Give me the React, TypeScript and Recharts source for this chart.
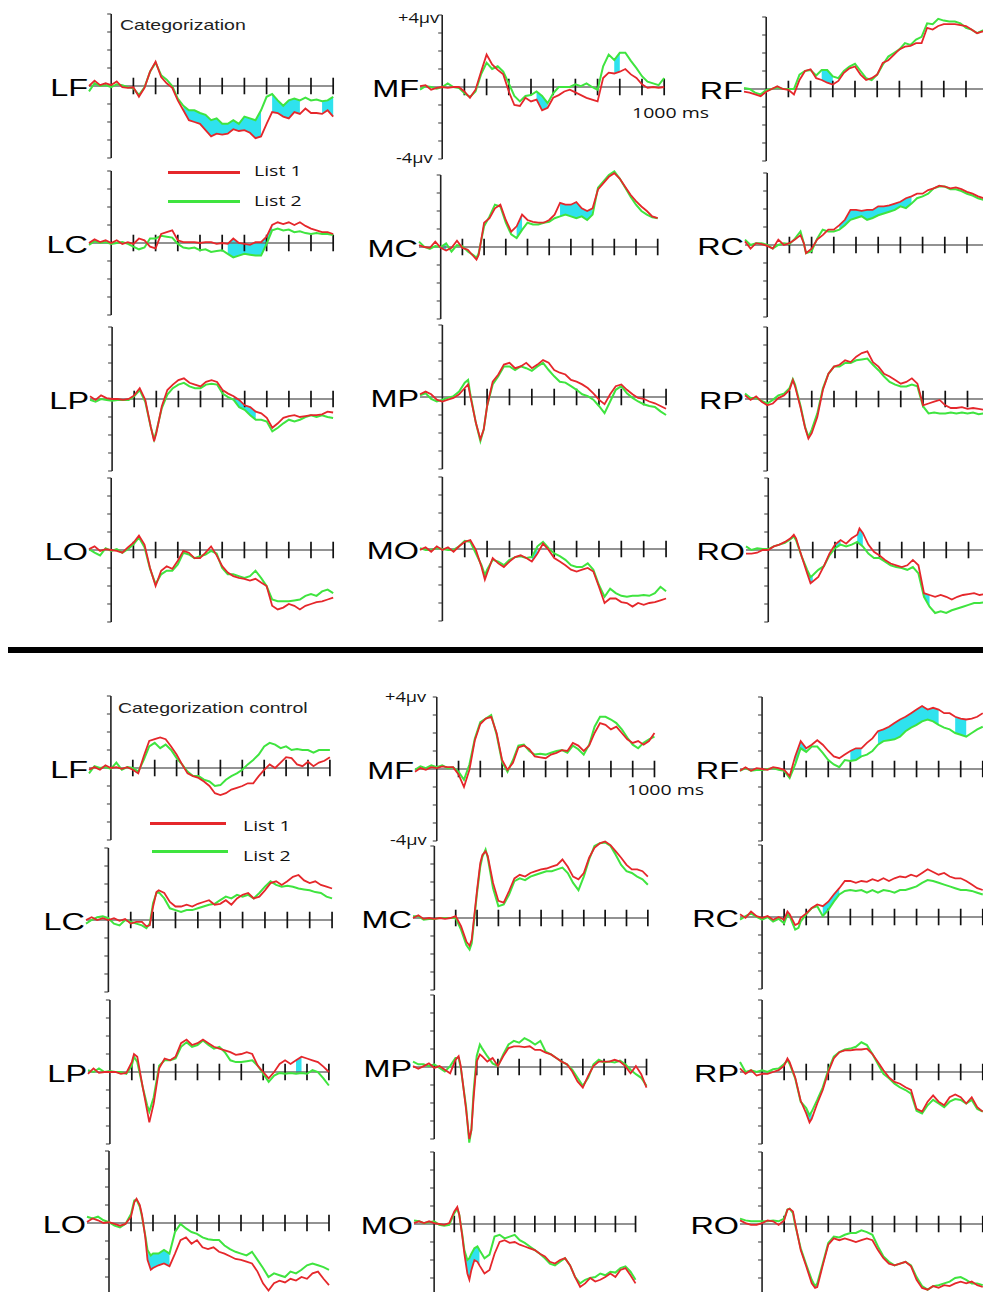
import React from 'react';
import { ComposedChart, Line, Area, XAxis, YAxis, ReferenceLine } from 'recharts';

const RED = '#e5272b';
const GREEN = '#3fe43f';
const CYAN = '#2fe2ee';
const ARIAL = '"Liberation Sans", Arial, sans-serif';
const OPEN = '"Open Sans", sans-serif';

// time points (ms)
const GRID = [-100, -75, -50, -25, 0, 25, 50, 75, 100, 125, 150, 175, 200, 225, 250, 275, 300, 325, 350, 375, 400, 425, 450, 475, 500, 525, 550, 575, 600, 625, 650, 675, 700, 725, 750, 775, 800, 825, 850, 875, 900, 925, 950, 975, 1000];
const T_165 = [-100, -75, -50, -25, 0, 25, 50, 75, 100, 125, 150, 165, 175, 200, 225, 250, 275, 300, 325, 350, 375, 400, 425, 450, 475, 500, 525, 550, 575, 600, 625, 650, 675, 700, 725, 750, 775, 800, 825, 850, 875, 900, 925, 950, 975, 1000];
const T_190 = [-100, -75, -50, -25, 0, 25, 50, 75, 100, 125, 150, 175, 190, 200, 225, 250, 275, 300, 325, 350, 375, 400, 425, 450, 475, 500, 525, 550, 575, 600, 625, 650, 675, 700, 725, 750, 775, 800, 825, 850, 875, 900, 925, 950, 975, 1000];
const T_TMP = [-100, -75, -50, -25, 0, 25, 50, 75, 100, 115, 125, 150, 170, 185, 200, 225, 250, 275, 300, 325, 350, 375, 400, 425, 450, 475, 500, 525, 550, 575, 600, 625, 650, 675, 700, 725, 750, 775, 800, 825, 850, 875, 900, 925, 950, 975, 1000];
const T_TRO = [-100, -75, -50, -25, 0, 25, 50, 75, 100, 115, 125, 150, 175, 190, 200, 225, 250, 275, 300, 325, 350, 375, 400, 410, 425, 450, 475, 500, 525, 550, 575, 600, 625, 650, 675, 700, 725, 750, 775, 800, 825, 850, 875, 900, 925, 950, 975, 1000];
const T_BLC = [-100, -75, -50, -25, 0, 25, 50, 75, 100, 125, 150, 170, 185, 200, 215, 225, 250, 275, 300, 325, 350, 375, 400, 425, 450, 475, 500, 525, 550, 575, 600, 625, 650, 675, 700, 725, 750, 775, 800, 825, 850, 875, 900, 925, 950, 975, 1000];
const T_BMC = [-100, -75, -50, -25, 0, 25, 50, 75, 100, 125, 150, 165, 175, 200, 215, 225, 240, 250, 275, 300, 325, 350, 375, 400, 425, 450, 475, 500, 525, 550, 575, 600, 625, 650, 675, 700, 725, 750, 775, 800, 825, 850, 875, 900, 925, 950, 975, 1000];
const T_BRC = [-100, -75, -50, -25, 0, 25, 50, 75, 100, 115, 125, 150, 165, 175, 200, 225, 250, 275, 300, 325, 350, 375, 400, 425, 450, 475, 500, 525, 550, 575, 600, 625, 650, 675, 700, 725, 750, 775, 800, 825, 850, 875, 900, 925, 950, 975, 1000];
const T_BLP = [-100, -75, -50, -25, 0, 25, 50, 75, 100, 110, 125, 150, 170, 180, 200, 225, 250, 275, 300, 325, 350, 375, 400, 425, 450, 475, 500, 525, 550, 575, 600, 625, 650, 675, 700, 725, 750, 775, 800, 825, 850, 875, 900, 925, 950, 975, 1000];
const T_BMP = [-100, -75, -50, -25, 0, 25, 50, 75, 100, 115, 125, 150, 165, 175, 185, 200, 215, 225, 250, 275, 300, 325, 350, 375, 400, 425, 450, 475, 500, 525, 550, 575, 600, 625, 650, 675, 700, 725, 750, 775, 800, 825, 850, 875, 900, 925, 950, 975, 1000];
const T_BRP = [-100, -75, -50, -25, 0, 25, 50, 75, 100, 115, 125, 150, 175, 200, 215, 225, 250, 275, 300, 325, 350, 375, 400, 425, 450, 475, 500, 525, 550, 575, 600, 625, 650, 675, 700, 725, 750, 775, 800, 825, 850, 875, 900, 925, 950, 975, 1000];
const T_BLO = [-100, -75, -50, -25, 0, 25, 50, 75, 100, 115, 125, 140, 150, 165, 175, 190, 200, 225, 250, 275, 300, 325, 350, 375, 400, 425, 450, 475, 500, 525, 550, 575, 600, 625, 650, 675, 700, 725, 750, 775, 800, 825, 850, 875, 900, 925, 950, 975, 1000];
const T_BMO = [-100, -75, -50, -25, 0, 25, 50, 75, 100, 115, 125, 140, 150, 165, 175, 185, 200, 215, 225, 250, 275, 300, 325, 350, 375, 400, 425, 450, 475, 500, 525, 550, 575, 600, 625, 650, 675, 700, 725, 750, 775, 800, 825, 850, 875, 900, 925, 950, 975, 1000];
const T_BRO = [-100, -75, -50, -25, 0, 25, 50, 75, 100, 115, 125, 140, 150, 175, 200, 225, 240, 250, 275, 300, 325, 350, 375, 400, 425, 450, 475, 500, 525, 550, 575, 600, 625, 650, 675, 700, 725, 750, 775, 800, 825, 850, 875, 900, 925, 950, 975, 1000];

// ---- Categorization (µV), list 1 = red, list 2 = green ----
const topLF_1 = [0, 0.3, 0.05, 0.15, 0.05, 0.25, -0.07, -0.1, -0.07, -0.6, -0.1, 0.8, 1.35, 0.5, 0.15, -0.1, -0.8, -1.35, -1.9, -2.0, -2.1, -2.45, -2.8, -2.65, -2.7, -2.65, -2.4, -2.5, -2.45, -2.6, -2.9, -2.8, -2.1, -1.45, -1.5, -1.7, -1.8, -1.45, -1.55, -1.25, -1.5, -1.5, -1.55, -1.35, -1.7];
const topLF_2 = [-0.3, 0.15, 0, 0.05, -0.07, 0.1, 0.05, -0.07, -0.13, -0.5, -0.07, 0.8, 1.3, 0.6, 0.35, 0, -0.7, -1.1, -1.35, -1.35, -1.5, -1.6, -1.9, -1.8, -2.1, -2.1, -1.9, -2.1, -1.7, -1.8, -1.9, -1.35, -0.6, -0.45, -0.8, -1.1, -0.8, -0.7, -0.8, -0.65, -0.8, -0.75, -0.85, -0.8, -0.6];
const topLF_sig = [[325, 475], [500, 675], [725, 850], [950, 1000]];

const topMF_1 = [0.05, 0.1, -0.15, -0.05, 0, -0.05, 0, 0, -0.25, -0.6, -0.15, 0.85, 1.8, 1.25, 0.95, 0.7, -0.25, -1.0, -1.05, -0.6, -0.8, -0.7, -1.3, -1.15, -0.6, -0.45, -0.25, -0.15, -0.3, -0.45, -0.6, -0.7, -0.8, 0.5, 0.8, 0.75, 0.85, 1.0, 0.7, 0.5, 0.15, -0.05, 0, -0.05, 0];
const topMF_2 = [-0.15, 0.05, 0, -0.1, 0, 0.2, 0, -0.05, -0.35, -0.55, -0.25, 0.7, 1.35, 1.0, 1.15, 0.85, 0.2, -0.5, -0.8, -0.5, -0.45, -0.25, -0.5, -0.9, -0.35, 0, 0, 0, 0.15, 0.05, 0.2, 0, -0.15, 1.15, 1.8, 1.5, 1.9, 1.9, 1.45, 1.05, 0.6, 0.3, 0.2, 0.1, 0.5];
const topMF_sig = [[425, 475], [775, 800]];

const topRF_1 = [-0.15, -0.2, -0.3, -0.4, -0.15, 0, 0.15, 0, -0.05, -0.3, 0.5, 1.0, 1.1, 0.6, 0.5, 0.35, 0.25, 0.45, 0.9, 1.15, 1.25, 0.8, 0.5, 0.6, 0.8, 1.45, 1.6, 1.9, 2.2, 2.35, 2.4, 2.55, 2.55, 3.4, 3.3, 3.5, 3.6, 3.6, 3.6, 3.55, 3.5, 3.3, 3.1, 3.2, 3.1];
const topRF_2 = [0.05, 0, -0.2, -0.3, -0.05, 0, 0.1, 0, 0, 0, 0.8, 1.0, 1.05, 0.75, 1.05, 1.05, 0.7, 0.6, 1.0, 1.25, 1.4, 1.0, 0.6, 0.5, 0.8, 1.35, 1.8, 2.0, 2.2, 2.55, 2.45, 2.75, 2.9, 3.65, 3.6, 3.9, 3.8, 3.75, 3.75, 3.65, 3.4, 3.3, 3.1, 3.25, 3.2];
const topRF_sig = [[250, 300]];

const topLC_1 = [0, 0.2, 0.05, 0.15, 0, 0.15, -0.05, 0.05, -0.05, 0.25, 0.15, -0.2, -0.3, 0.5, 0.6, 0.7, 0.15, 0.05, 0.05, 0.05, 0, 0.05, 0.05, -0.05, 0, -0.05, 0.25, 0, -0.05, -0.1, 0.05, 0.05, 0.35, 1.0, 1.15, 1.05, 1.15, 1.0, 1.15, 0.95, 0.8, 0.7, 0.6, 0.6, 0.5];
const topLC_2 = [-0.1, 0.1, 0, 0.05, -0.05, 0, 0.05, -0.05, -0.2, -0.35, -0.25, 0.25, 0.25, 0.4, 0.35, 0.3, -0.05, -0.25, -0.3, -0.25, -0.4, -0.35, -0.5, -0.45, -0.4, -0.6, -0.8, -0.7, -0.6, -0.65, -0.7, -0.7, -0.05, 0.7, 0.8, 0.7, 0.75, 0.6, 0.65, 0.55, 0.5, 0.55, 0.5, 0.5, 0.45];
const topLC_sig = [[525, 600], [625, 725]];

const topMC_1 = [0.1, 0, -0.05, 0.3, -0.05, -0.2, -0.05, 0.35, -0.05, -0.15, -0.5, -0.7, -0.45, 1.35, 1.6, 2.15, 2.35, 1.5, 0.85, 1.15, 1.8, 1.5, 1.4, 1.35, 1.35, 1.5, 1.8, 2.45, 2.35, 2.35, 2.5, 2.15, 2.0, 2.15, 3.2, 3.55, 3.9, 4.1, 3.8, 3.35, 2.9, 2.55, 2.25, 2.0, 1.7, 1.6];
const topMC_2 = [0.3, 0, -0.1, 0.05, 0, 0.2, -0.25, 0.1, 0.05, -0.25, -0.45, -0.6, -0.35, 1.15, 1.7, 2.35, 2.25, 1.35, 0.7, 0.5, 0.95, 1.35, 1.25, 1.25, 1.35, 1.4, 1.6, 1.7, 1.8, 1.7, 1.6, 1.7, 1.5, 1.8, 3.3, 3.65, 4.0, 4.2, 3.8, 3.3, 2.8, 2.35, 2.0, 1.8, 1.65, 1.6];
const topMC_sig = [[0, 25], [350, 375], [550, 700]];

const topRC_1 = [0.2, -0.2, 0.1, 0.05, -0.05, -0.2, 0.3, 0, 0.1, 0.3, 0.55, 0.1, -0.45, -0.2, 0.3, 0.55, 0.85, 0.85, 1.1, 1.4, 1.95, 1.95, 1.9, 1.95, 1.95, 2.15, 2.15, 2.2, 2.3, 2.4, 2.6, 2.7, 2.85, 2.85, 3.05, 3.15, 3.3, 3.25, 3.15, 3.2, 3.1, 2.95, 2.85, 2.7, 2.6, 2.5];
const topRC_2 = [0.3, 0, 0.1, 0.1, 0, -0.2, 0, 0.1, 0.05, 0.35, 0.75, 0.1, -0.45, -0.35, 0.35, 0.85, 0.75, 0.75, 0.85, 1.1, 1.4, 1.5, 1.6, 1.4, 1.5, 1.65, 1.75, 1.85, 1.95, 2.15, 2.05, 2.3, 2.6, 2.7, 2.85, 3.15, 3.25, 3.25, 3.1, 3.1, 3.0, 2.85, 2.75, 2.6, 2.5, 2.45];
const topRC_sig = [[325, 650]];

const topLP_1 = [0.15, -0.05, 0.2, 0.05, 0, 0, -0.05, 0, 0.2, 0.6, -0.05, -1.55, -2.35, -1.9, -0.4, 0.5, 0.8, 1.05, 1.15, 0.9, 0.8, 0.7, 0.95, 1.05, 0.95, 0.5, 0.3, 0.15, -0.05, -0.35, -0.45, -0.7, -0.8, -1.05, -1.6, -1.35, -1.05, -0.95, -0.9, -1.0, -0.95, -0.9, -0.9, -0.85, -0.7, -0.75];
const topLP_2 = [-0.05, -0.15, 0, -0.05, -0.1, -0.05, -0.05, -0.05, 0.15, 0.5, -0.15, -1.55, -2.25, -1.8, -0.5, 0.25, 0.6, 0.8, 0.9, 0.7, 0.6, 0.6, 0.8, 0.85, 0.8, 0.3, 0.1, -0.05, -0.45, -0.6, -0.9, -1.15, -1.15, -1.25, -1.8, -1.6, -1.35, -1.15, -1.25, -1.15, -1.0, -0.9, -1.0, -0.9, -1.0, -1.05];
const topLP_sig = [[550, 650]];

const topMP_1 = [0.15, 0.3, 0.15, -0.15, -0.25, -0.15, -0.05, 0.15, 0.5, 0.7, 0.05, -1.45, -2.35, -1.8, -0.5, 0.85, 1.25, 1.8, 1.9, 1.6, 1.7, 1.9, 1.6, 1.8, 2.05, 1.9, 1.5, 1.35, 1.25, 0.95, 0.85, 0.7, 0.5, 0.2, -0.15, -0.4, 0.15, 0.6, 0.7, 0.4, 0.15, -0.05, -0.1, -0.25, -0.35, -0.5, -0.65];
const topMP_2 = [0.1, 0.2, -0.1, -0.25, -0.15, -0.05, 0.05, 0.3, 0.8, 0.95, 0.15, -1.45, -2.45, -1.8, -0.5, 0.7, 1.15, 1.7, 1.7, 1.5, 1.7, 1.6, 1.45, 1.7, 1.9, 1.5, 1.15, 0.85, 0.8, 0.6, 0.4, 0.15, 0.05, -0.15, -0.5, -0.9, -0.25, 0.4, 0.6, 0.2, -0.05, -0.25, -0.4, -0.5, -0.55, -0.8, -1.0];
const topMP_sig: number[][] = [];

const topRP_1 = [0.2, -0.05, 0.15, -0.15, -0.35, -0.25, 0.05, 0.2, 0.5, 1.05, 0.7, -0.5, -1.6, -2.2, -1.9, -1.0, 0.5, 1.4, 1.8, 1.9, 2.15, 2.05, 2.35, 2.55, 2.65, 2.05, 1.8, 1.4, 1.25, 1.05, 0.85, 0.95, 1.15, 0.85, -0.35, -0.25, -0.15, -0.05, -0.35, -0.5, -0.5, -0.45, -0.55, -0.5, -0.55, -0.6, -0.65];
const topRP_2 = [0.3, 0.05, 0.05, -0.1, -0.25, -0.05, 0.2, 0.3, 0.6, 1.1, 0.8, -0.4, -1.55, -2.1, -1.7, -0.8, 0.6, 1.4, 1.8, 1.8, 2.0, 2.0, 2.15, 2.2, 2.25, 1.9, 1.6, 1.25, 0.95, 0.8, 0.7, 0.7, 0.8, 0.7, -0.4, -0.8, -0.75, -0.8, -0.8, -0.75, -0.8, -0.75, -0.8, -0.75, -0.85, -0.8, -0.85];
const topRP_sig = [[170, 200]];

const topLO_1 = [0.05, 0.2, -0.05, 0.05, 0, -0.05, -0.15, 0.15, 0.4, 0.8, 0.3, -1.0, -2.0, -1.15, -0.9, -1.05, -0.6, -0.05, -0.15, -0.45, -0.45, -0.15, 0.2, -0.3, -0.9, -1.25, -1.45, -1.55, -1.6, -1.7, -1.6, -1.8, -2.0, -3.1, -3.3, -3.2, -3.0, -3.1, -3.3, -3.1, -3.0, -2.9, -2.85, -2.75, -2.65];
const topLO_2 = [0.05, -0.15, -0.3, 0.1, -0.05, 0.05, -0.15, 0.05, 0.3, 0.7, 0.15, -1.05, -1.9, -1.35, -1.15, -1.15, -0.8, -0.15, -0.25, -0.45, -0.35, -0.25, -0.05, -0.2, -1.0, -1.35, -1.35, -1.45, -1.55, -1.45, -1.15, -1.55, -2.0, -2.75, -2.85, -2.85, -2.85, -2.8, -2.75, -2.55, -2.45, -2.55, -2.3, -2.2, -2.4];
const topLO_sig: number[][] = [];

const topMO_1 = [-0.05, 0.1, -0.15, 0.15, -0.05, 0.1, -0.15, 0.15, 0.4, 0.5, -0.05, -1.0, -1.7, -1.35, -0.5, -0.8, -1.0, -0.7, -0.45, -0.35, -0.5, -0.7, -0.25, 0.3, -0.05, -0.5, -0.7, -0.9, -1.15, -1.25, -1.15, -1.05, -1.25, -2.1, -3.0, -2.75, -2.75, -2.95, -3.0, -3.2, -3.0, -3.1, -3.0, -2.95, -2.85, -2.75];
const topMO_2 = [0.05, -0.05, -0.05, 0.05, 0, -0.05, -0.05, 0.15, 0.45, 0.4, -0.25, -0.9, -1.45, -1.15, -0.6, -0.7, -0.9, -0.6, -0.45, -0.4, -0.5, -0.45, 0.15, 0.4, 0.05, -0.25, -0.4, -0.6, -0.9, -1.0, -1.0, -0.8, -1.15, -2.0, -2.65, -2.2, -2.45, -2.6, -2.65, -2.6, -2.6, -2.55, -2.6, -2.45, -2.1, -2.35];
const topMO_sig = [[175, 200], [400, 425]];

const topRO_1 = [-0.2, -0.2, -0.15, 0, 0, 0.2, 0.3, 0.45, 0.65, 0.85, 0.65, -0.35, -1.3, -1.85, -1.75, -1.5, -0.9, -0.2, 0.3, 0.55, 0.35, 0.65, 0.85, 1.2, 0.95, 0.3, -0.1, -0.3, -0.55, -0.75, -0.85, -0.95, -0.85, -0.55, -0.85, -2.4, -2.5, -2.6, -2.5, -2.6, -2.75, -2.6, -2.5, -2.45, -2.4, -2.5, -2.45, -2.5];
const topRO_2 = [0.2, 0, 0.1, 0.05, 0.05, 0.2, 0.3, 0.4, 0.6, 0.75, 0.55, -0.35, -1.1, -1.5, -1.4, -1.1, -0.9, -0.3, 0.1, 0.3, 0.2, 0.3, 0.45, 0.35, 0.2, -0.2, -0.45, -0.45, -0.65, -0.85, -0.95, -1.0, -1.1, -0.95, -1.3, -2.6, -3.15, -3.5, -3.4, -3.5, -3.35, -3.25, -3.15, -3.05, -2.95, -2.95, -2.9, -2.8];
const topRO_sig = [[175, 200], [300, 325], [400, 425], [700, 725]];

// ---- Categorization control ----
const botLF_1 = [-0.1, 0.05, -0.1, 0.15, 0, 0.05, -0.05, 0.05, -0.1, -0.3, 0.65, 1.5, 1.6, 1.7, 1.6, 1.2, 0.75, 0.2, -0.3, -0.45, -0.55, -0.75, -1.0, -1.4, -1.5, -1.4, -1.2, -1.1, -1.0, -0.85, -0.85, -0.45, -0.1, 0.2, 0, 0.3, 0.6, 0.55, 0.2, 0.1, 0.35, 0.1, 0.3, 0.4, 0.6];
const botLF_2 = [-0.3, 0.1, 0, 0.05, -0.05, 0.3, -0.1, 0.05, 0, -0.2, 0.45, 1.2, 1.4, 1.1, 1.3, 1.0, 0.55, 0.2, -0.2, -0.45, -0.45, -0.65, -0.75, -1.0, -0.95, -0.65, -0.45, -0.3, -0.1, 0.2, 0.45, 0.75, 1.2, 1.4, 1.3, 1.1, 1.2, 1.0, 1.05, 1.0, 1.0, 0.85, 1.0, 1.0, 1.0];
const botLF_sig: number[][] = [];

const botMF_1 = [-0.15, 0.05, -0.05, 0.1, 0.05, 0.15, 0.1, 0.1, -0.3, -1.0, -0.05, 1.6, 2.5, 2.8, 2.9, 2.0, 0.5, -0.05, 0.35, 1.2, 1.3, 1.1, 0.7, 0.65, 0.6, 0.8, 0.9, 1.05, 1.0, 1.45, 1.3, 1.0, 1.3, 2.0, 2.55, 2.45, 2.2, 2.35, 2.0, 1.65, 1.45, 1.55, 1.35, 1.55, 2.0];
const botMF_2 = [-0.05, 0.15, 0.05, 0.2, 0.1, 0.2, 0.05, 0.1, -0.15, -0.6, 0.25, 1.7, 2.6, 2.8, 3.0, 1.9, 0.4, -0.15, 0.5, 1.3, 1.35, 1.0, 0.8, 0.85, 0.8, 0.9, 1.0, 1.05, 0.9, 1.3, 1.1, 0.8, 1.35, 2.35, 2.9, 2.9, 2.75, 2.55, 2.2, 1.75, 1.35, 1.15, 1.45, 1.65, 1.8];
const botMF_sig: number[][] = [];

const botRF_1 = [-0.1, 0.1, -0.1, 0.05, 0, -0.05, 0.1, 0.05, -0.05, -0.4, 0.7, 1.55, 1.15, 1.35, 1.6, 1.35, 1.0, 0.7, 0.6, 0.8, 1.0, 1.15, 1.15, 1.45, 1.7, 2.1, 2.2, 2.35, 2.55, 2.75, 2.9, 3.1, 3.3, 3.5, 3.3, 3.4, 3.3, 3.1, 3.1, 2.9, 2.8, 2.75, 2.8, 2.9, 3.1];
const botRF_2 = [-0.1, 0.05, -0.1, -0.05, -0.05, 0, 0.05, -0.05, -0.1, -0.5, 0.25, 1.15, 0.95, 1.25, 1.25, 0.9, 0.5, 0.25, 0.1, 0.5, 0.45, 0.5, 0.7, 0.8, 1.0, 1.35, 1.55, 1.6, 1.65, 1.8, 2.1, 2.3, 2.45, 2.65, 2.75, 2.65, 2.45, 2.3, 2.2, 2.0, 1.9, 1.8, 2.0, 2.2, 2.35];
const botRF_sig = [[150, 200], [400, 450], [525, 600], [625, 800], [875, 925]];

const botLC_1 = [0, 0.15, 0, 0.1, 0, 0.1, -0.05, 0.05, -0.2, -0.1, -0.1, -0.35, -0.3, 0.75, 1.55, 1.65, 1.5, 1.0, 0.75, 0.75, 0.85, 0.75, 0.9, 1.0, 1.1, 0.85, 0.9, 1.1, 0.85, 1.2, 1.4, 1.5, 1.2, 1.3, 1.65, 2.05, 2.15, 1.95, 2.15, 2.4, 2.5, 2.2, 2.05, 2.15, 1.95, 1.85, 1.75];
const botLC_2 = [-0.2, 0, 0.15, 0.2, 0.1, -0.2, -0.3, 0, -0.1, -0.2, -0.3, -0.45, -0.2, 0.95, 1.5, 1.55, 1.2, 0.65, 0.55, 0.45, 0.55, 0.55, 0.65, 0.75, 0.85, 0.9, 1.1, 1.3, 1.2, 1.4, 1.3, 1.4, 1.2, 1.5, 1.85, 2.15, 1.95, 1.85, 1.9, 1.85, 1.75, 1.7, 1.65, 1.55, 1.5, 1.3, 1.2];
const botLC_sig: number[][] = [];

const botMC_1 = [0, 0.15, -0.05, 0, -0.05, 0, -0.05, 0, 0.1, -0.45, -1.3, -1.55, -1.2, 1.55, 3.05, 3.5, 3.7, 3.45, 1.95, 0.95, 0.85, 1.5, 2.2, 2.4, 2.3, 2.5, 2.6, 2.7, 2.75, 2.85, 2.95, 3.25, 2.85, 2.3, 2.15, 2.5, 3.35, 3.9, 4.15, 4.25, 4.05, 3.7, 3.35, 2.95, 2.7, 2.7, 2.6, 2.3];
const botMC_2 = [0.1, 0.1, -0.1, -0.05, -0.05, 0, 0, 0, 0, -0.65, -1.5, -1.75, -1.4, 1.4, 2.85, 3.4, 3.8, 3.35, 1.65, 0.65, 0.75, 1.3, 2.05, 2.2, 2.1, 2.3, 2.4, 2.5, 2.6, 2.6, 2.7, 2.8, 2.5, 1.95, 1.55, 2.3, 3.25, 4.0, 4.15, 4.2, 4.0, 3.5, 2.95, 2.6, 2.5, 2.3, 2.15, 1.85];
const botMC_sig = [[825, 850]];

const botRC_1 = [0.15, -0.05, 0.3, 0.05, -0.05, 0.05, -0.15, 0, -0.15, 0.3, 0.15, -0.45, -0.35, -0.05, 0.2, 0.5, 0.7, 0.6, 0.85, 1.25, 1.6, 2.0, 2.0, 1.9, 2.0, 1.95, 2.1, 2.0, 2.15, 2.0, 2.15, 2.25, 2.2, 2.35, 2.25, 2.45, 2.65, 2.5, 2.35, 2.45, 2.25, 2.15, 2.15, 2.0, 1.8, 1.6, 1.5];
const botRC_2 = [-0.15, 0.05, 0.2, 0, -0.15, 0, -0.25, -0.1, -0.35, 0.15, 0.05, -0.7, -0.6, -0.25, 0.15, 0.5, 0.6, 0.05, 0.4, 0.85, 1.25, 1.45, 1.5, 1.45, 1.5, 1.35, 1.5, 1.35, 1.5, 1.45, 1.35, 1.5, 1.5, 1.6, 1.7, 1.9, 2.05, 2.0, 1.9, 1.8, 1.7, 1.6, 1.5, 1.5, 1.45, 1.35, 1.25];
const botRC_sig = [[275, 350]];

const botLP_1 = [-0.1, 0.2, -0.05, 0, 0, 0, -0.1, -0.05, 0.55, 1.0, 0.85, -0.85, -2.15, -2.8, -1.75, 0.2, 0.75, 0.65, 0.85, 1.6, 1.8, 1.5, 1.6, 1.8, 1.6, 1.4, 1.3, 1.2, 1.1, 0.95, 1.0, 1.1, 1.0, 0.35, 0, -0.35, 0, 0.45, 0.65, 0.45, 0.65, 0.85, 0.75, 0.65, 0.55, 0.3, 0];
const botLP_2 = [0.1, 0, 0.2, 0, 0.05, 0, 0, -0.1, 0.35, 0.85, 0.55, -0.85, -1.85, -2.2, -1.4, 0.35, 0.65, 0.65, 0.75, 1.4, 1.65, 1.4, 1.5, 1.75, 1.5, 1.3, 1.4, 1.1, 0.65, 0.55, 0.55, 0.6, 0.65, 0.35, -0.1, -0.55, -0.2, -0.05, -0.1, -0.05, -0.1, -0.05, -0.1, 0.1, 0, -0.35, -0.75];
const botLP_sig = [[850, 875]];

const botMP_1 = [0.05, -0.1, 0.05, 0.2, -0.05, 0.05, -0.15, -0.35, 0.4, 0.6, 0.05, -2.35, -4.0, -3.5, -1.8, 0.3, 0.7, 0.6, 0.3, 0.5, 0.05, 0.6, 1.05, 1.15, 1.15, 1.1, 1.15, 0.95, 0.95, 0.8, 0.7, 0.5, 0.3, 0.15, -0.25, -0.8, -1.15, -0.5, 0.05, 0.3, 0.3, 0.3, 0.4, 0.3, 0.05, -0.35, 0.05, -0.4, -1.15];
const botMP_2 = [0.3, 0.15, 0.15, 0.05, 0.15, -0.05, -0.25, 0.05, 0.5, 0.5, -0.05, -2.2, -4.2, -3.5, -1.45, 0.6, 1.25, 1.05, 0.6, 0.2, 0.05, 0.7, 1.25, 1.45, 1.35, 1.6, 1.45, 1.25, 1.45, 0.85, 0.7, 0.5, 0.3, 0.15, -0.15, -0.6, -1.05, -0.6, 0.15, 0.4, 0.25, 0.3, 0.25, 0.35, 0.15, -0.15, -0.4, -0.6, -1.05];
const botMP_sig = [[150, 175]];

const botRP_1 = [0.2, -0.1, 0.1, -0.2, -0.1, -0.1, 0, 0.1, 0.35, 0.75, 0.55, -0.3, -1.6, -2.3, -2.8, -2.6, -1.75, -1.0, 0, 0.75, 1.1, 1.2, 1.2, 1.25, 1.25, 1.3, 1.0, 0.55, 0.1, -0.3, -0.55, -0.65, -0.85, -1.0, -2.05, -2.2, -1.65, -1.3, -1.65, -1.85, -1.4, -1.25, -1.4, -1.75, -1.4, -1.95, -2.2];
const botRP_2 = [0.55, 0, 0.1, 0, 0.1, 0, 0.15, 0.2, 0.45, 0.65, 0.45, -0.35, -1.65, -2.0, -2.4, -2.2, -1.55, -0.85, 0.1, 0.85, 1.1, 1.25, 1.3, 1.4, 1.65, 1.5, 1.0, 0.45, -0.1, -0.35, -0.65, -0.85, -1.0, -1.2, -2.15, -2.3, -1.85, -1.55, -1.75, -1.95, -1.65, -1.5, -1.55, -1.75, -1.55, -2.05, -2.2];
const botRP_sig = [[200, 225]];

const botLO_1 = [0.05, 0.25, 0.15, 0, 0.05, -0.05, -0.15, -0.05, 0.35, 1.15, 1.35, 1.0, 0.45, -0.8, -2.05, -2.6, -2.5, -2.35, -2.25, -2.4, -1.7, -0.95, -0.8, -1.15, -0.95, -1.35, -1.45, -1.35, -1.6, -1.7, -1.85, -2.0, -2.05, -2.15, -2.25, -2.7, -3.35, -3.75, -3.35, -3.2, -3.3, -3.1, -3.2, -3.0, -3.1, -2.8, -2.7, -3.1, -3.45];
const botLO_2 = [0.35, 0.25, 0.35, 0.15, 0.05, -0.15, -0.25, -0.05, 0.5, 1.25, 1.3, 0.9, 0.35, -0.7, -1.5, -1.8, -1.7, -1.7, -1.5, -1.7, -0.5, -0.05, -0.3, -0.5, -0.6, -0.8, -0.9, -0.95, -0.95, -1.25, -1.45, -1.6, -1.7, -1.8, -1.6, -2.05, -2.5, -3.0, -2.8, -2.9, -3.0, -2.7, -2.8, -2.6, -2.35, -2.25, -2.35, -2.45, -2.6];
const botLO_sig = [[175, 275]];

const botMO_1 = [0.05, 0.15, 0.05, 0.15, 0.05, 0, -0.05, 0.05, 0.7, 0.95, 0.5, -0.7, -1.65, -2.75, -3.1, -2.55, -2.0, -2.1, -2.3, -2.75, -2.55, -1.65, -1.0, -0.9, -1.05, -1.0, -1.15, -1.25, -1.35, -1.45, -1.65, -1.8, -2.1, -2.2, -2.0, -1.9, -2.3, -2.95, -3.5, -3.3, -3.0, -3.2, -3.1, -2.95, -2.75, -2.95, -2.55, -2.45, -2.85, -3.3];
const botMO_2 = [0.2, 0.15, 0.05, 0.1, 0.15, -0.05, -0.1, -0.05, 0.6, 0.85, 0.5, -0.6, -1.45, -2.0, -1.9, -1.65, -1.35, -1.25, -1.45, -1.9, -1.7, -0.7, -0.6, -0.8, -0.7, -0.6, -0.9, -1.05, -1.25, -1.45, -1.65, -1.9, -2.2, -2.3, -2.1, -1.9, -2.3, -2.95, -3.3, -3.1, -3.0, -2.95, -2.75, -2.85, -2.65, -2.7, -2.45, -2.35, -2.65, -3.1];
const botMO_sig = [[150, 225]];

const botRO_1 = [0.2, 0.05, -0.05, -0.05, 0.05, 0.2, 0.15, -0.05, 0.2, 0.8, 0.85, 0.7, 0.05, -1.45, -2.35, -3.3, -3.55, -3.5, -2.3, -1.15, -0.8, -0.9, -0.8, -0.9, -1.0, -0.9, -0.8, -0.9, -1.45, -1.9, -2.2, -2.3, -2.2, -2.1, -2.35, -3.1, -3.55, -3.65, -3.45, -3.55, -3.4, -3.45, -3.3, -3.2, -3.3, -3.2, -3.4, -3.5];
const botRO_2 = [0.3, 0.2, 0.15, 0.15, 0.15, 0.15, 0.2, 0.15, 0.3, 0.8, 0.85, 0.6, -0.05, -1.35, -2.25, -3.1, -3.45, -3.3, -2.2, -1.05, -0.7, -0.75, -0.6, -0.5, -0.5, -0.35, -0.45, -0.6, -1.25, -1.8, -2.1, -2.3, -2.2, -2.1, -2.3, -2.95, -3.45, -3.65, -3.45, -3.4, -3.3, -3.2, -3.0, -2.95, -3.1, -3.3, -3.3, -3.4];
const botRO_sig = [[225, 250]];

const MS_TICKS = [100, 200, 300, 400, 500, 600, 700, 800, 900, 1000];
const UV_TICKS = [-4, -3, -2, -1, 1, 2, 3, 4];

const SERIES = [
  { name: 'LF', t: GRID, l1: topLF_1, l2: topLF_2, sig: topLF_sig },
  { name: 'MF', t: GRID, l1: topMF_1, l2: topMF_2, sig: topMF_sig },
  { name: 'RF', t: GRID, l1: topRF_1, l2: topRF_2, sig: topRF_sig },
  { name: 'LC', t: GRID, l1: topLC_1, l2: topLC_2, sig: topLC_sig },
  { name: 'MC', t: T_165, l1: topMC_1, l2: topMC_2, sig: topMC_sig },
  { name: 'RC', t: T_165, l1: topRC_1, l2: topRC_2, sig: topRC_sig },
  { name: 'LP', t: T_190, l1: topLP_1, l2: topLP_2, sig: topLP_sig },
  { name: 'MP', t: T_TMP, l1: topMP_1, l2: topMP_2, sig: topMP_sig },
  { name: 'RP', t: T_TMP, l1: topRP_1, l2: topRP_2, sig: topRP_sig },
  { name: 'LO', t: GRID, l1: topLO_1, l2: topLO_2, sig: topLO_sig },
  { name: 'MO', t: T_190, l1: topMO_1, l2: topMO_2, sig: topMO_sig },
  { name: 'RO', t: T_TRO, l1: topRO_1, l2: topRO_2, sig: topRO_sig },
  { name: 'LF', t: GRID, l1: botLF_1, l2: botLF_2, sig: botLF_sig },
  { name: 'MF', t: GRID, l1: botMF_1, l2: botMF_2, sig: botMF_sig },
  { name: 'RF', t: GRID, l1: botRF_1, l2: botRF_2, sig: botRF_sig },
  { name: 'LC', t: T_BLC, l1: botLC_1, l2: botLC_2, sig: botLC_sig },
  { name: 'MC', t: T_BMC, l1: botMC_1, l2: botMC_2, sig: botMC_sig },
  { name: 'RC', t: T_BRC, l1: botRC_1, l2: botRC_2, sig: botRC_sig },
  { name: 'LP', t: T_BLP, l1: botLP_1, l2: botLP_2, sig: botLP_sig },
  { name: 'MP', t: T_BMP, l1: botMP_1, l2: botMP_2, sig: botMP_sig },
  { name: 'RP', t: T_BRP, l1: botRP_1, l2: botRP_2, sig: botRP_sig },
  { name: 'LO', t: T_BLO, l1: botLO_1, l2: botLO_2, sig: botLO_sig },
  { name: 'MO', t: T_BMO, l1: botMO_1, l2: botMO_2, sig: botMO_sig },
  { name: 'RO', t: T_BRO, l1: botRO_1, l2: botRO_2, sig: botRO_sig },
];

// where each panel sits: pixel of t=0, px per ms, pixel of the 0 µV line
const PLACES = [
  { x0: 111, k: 0.222, y0: 86 }, { x0: 442, k: 0.222, y0: 87 }, { x0: 766, k: 0.222, y0: 89 },
  { x0: 111, k: 0.222, y0: 243 }, { x0: 441, k: 0.217, y0: 247 }, { x0: 767, k: 0.222, y0: 245 },
  { x0: 112, k: 0.221, y0: 399 }, { x0: 442, k: 0.2237, y0: 397 }, { x0: 767.6, k: 0.2225, y0: 399 },
  { x0: 111, k: 0.222, y0: 550 }, { x0: 442, k: 0.2237, y0: 549 }, { x0: 768, k: 0.2225, y0: 550 },
  { x0: 110.4, k: 0.219, y0: 768 }, { x0: 437, k: 0.2177, y0: 769 }, { x0: 761.6, k: 0.2207, y0: 769 },
  { x0: 108, k: 0.2237, y0: 920 }, { x0: 434, k: 0.2135, y0: 918 }, { x0: 762, k: 0.2207, y0: 917 },
  { x0: 110, k: 0.219, y0: 1072 }, { x0: 434, k: 0.2123, y0: 1067 }, { x0: 762, k: 0.2207, y0: 1072 },
  { x0: 109, k: 0.22, y0: 1223 }, { x0: 434, k: 0.2014, y0: 1224 }, { x0: 762, k: 0.2207, y0: 1224 },
];

function Txt({ x, cy, size, family = ARIAL, color = '#111', sx = 1.3, right = false, mid = 0.49, children }: any) {
  const style: React.CSSProperties = {
    position: 'absolute',
    top: cy - size * mid,
    fontSize: size,
    lineHeight: `${size}px`,
    fontFamily: family,
    color,
    whiteSpace: 'nowrap',
    transform: `scaleX(${sx})`,
    transformOrigin: right ? 'right center' : 'left center',
  };
  if (right) {
    style.left = x - 200;
    style.width = 200;
    style.textAlign = 'right';
  } else {
    style.left = x;
  }
  return <div style={style}>{children}</div>;
}

function Panel({ s, p }: any) {
  const pad = 8;
  const xStart = p.x0 - 100 * p.k;
  const w = 1100 * p.k;
  const tickMs = 4 / p.k;
  const data = s.t.map((t: number, i: number) => {
    const a = s.l1[i];
    const b = s.l2[i];
    const on = s.sig.some(([lo, hi]: number[]) => t >= lo && t <= hi);
    return { t, l1: a, l2: b, band: on ? [Math.min(a, b), Math.max(a, b)] : null };
  });
  return (
    <>
      <div style={{ position: 'absolute', left: xStart - pad, top: p.y0 - 90 }}>
        <ComposedChart width={w + 2 * pad} height={180} data={data} margin={{ top: 0, right: pad, bottom: 0, left: pad }}>
          <XAxis type="number" dataKey="t" domain={[-100, 1000]} hide />
          <YAxis type="number" domain={[-5, 5]} hide />
          <ReferenceLine segment={[{ x: -100, y: 0 }, { x: 1000, y: 0 }]} stroke="#6e6e6e" strokeWidth={1.4} />
          {MS_TICKS.map((m) => (
            <ReferenceLine key={'m' + m} segment={[{ x: m, y: -0.46 }, { x: m, y: 0.46 }]} stroke="#111" strokeWidth={1.7} />
          ))}
          <ReferenceLine segment={[{ x: 0, y: -4 }, { x: 0, y: 4 }]} stroke="#222" strokeWidth={1.6} />
          {UV_TICKS.map((u) => (
            <ReferenceLine key={'u' + u} segment={[{ x: -tickMs, y: u }, { x: 0, y: u }]} stroke="#333" strokeWidth={1} />
          ))}
          <Area type="linear" dataKey="band" stroke="none" fill={CYAN} fillOpacity={1} isAnimationActive={false} />
          <Line type="linear" dataKey="l2" stroke={GREEN} strokeWidth={2} dot={false} isAnimationActive={false} />
          <Line type="linear" dataKey="l1" stroke={RED} strokeWidth={1.8} dot={false} isAnimationActive={false} />
        </ComposedChart>
      </div>
      <Txt x={xStart - 1} cy={p.y0 + 1.5} size={24} sx={1.35} right color="#000">
        {s.name}
      </Txt>
    </>
  );
}

function LegendKey({ x, y, w, color }: any) {
  return <div style={{ position: 'absolute', left: x, top: y - 1.5, width: w, height: 3, background: color }} />;
}

export default function App() {
  return (
    <div style={{ position: 'absolute', left: 0, top: 0, width: 983, height: 1292, overflow: 'hidden', background: '#fff' }}>
      {SERIES.map((s, i) => (
        <Panel key={i} s={s} p={PLACES[i]} />
      ))}

      <Txt x={120} cy={24} size={15} color="#222">Categorization</Txt>
      <LegendKey x={168} y={172} w={72} color={RED} />
      <LegendKey x={168} y={201} w={72} color={GREEN} />
      <Txt x={254} cy={171} size={15} family={OPEN} mid={0.53}>List 1</Txt>
      <Txt x={254} cy={201} size={15} family={OPEN} mid={0.53}>List 2</Txt>
      <Txt x={398} cy={18} size={14} family={OPEN} mid={0.53}>+4µv</Txt>
      <Txt x={396} cy={158} size={14} family={OPEN} mid={0.53}>-4µv</Txt>
      <Txt x={632} cy={113} size={15} family={OPEN} mid={0.53}>1000 ms</Txt>

      <div style={{ position: 'absolute', left: 8, top: 647, width: 975, height: 6, background: '#000' }} />

      <Txt x={118} cy={707} size={15} color="#222">Categorization control</Txt>
      <LegendKey x={150} y={823} w={76} color={RED} />
      <LegendKey x={152} y={851} w={76} color={GREEN} />
      <Txt x={243} cy={826} size={15} family={OPEN} mid={0.53}>List 1</Txt>
      <Txt x={243} cy={856} size={15} family={OPEN} mid={0.53}>List 2</Txt>
      <Txt x={385} cy={697} size={14} family={OPEN} mid={0.53}>+4µv</Txt>
      <Txt x={390} cy={840} size={14} family={OPEN} mid={0.53}>-4µv</Txt>
      <Txt x={627} cy={790} size={15} family={OPEN} mid={0.53}>1000 ms</Txt>
    </div>
  );
}
